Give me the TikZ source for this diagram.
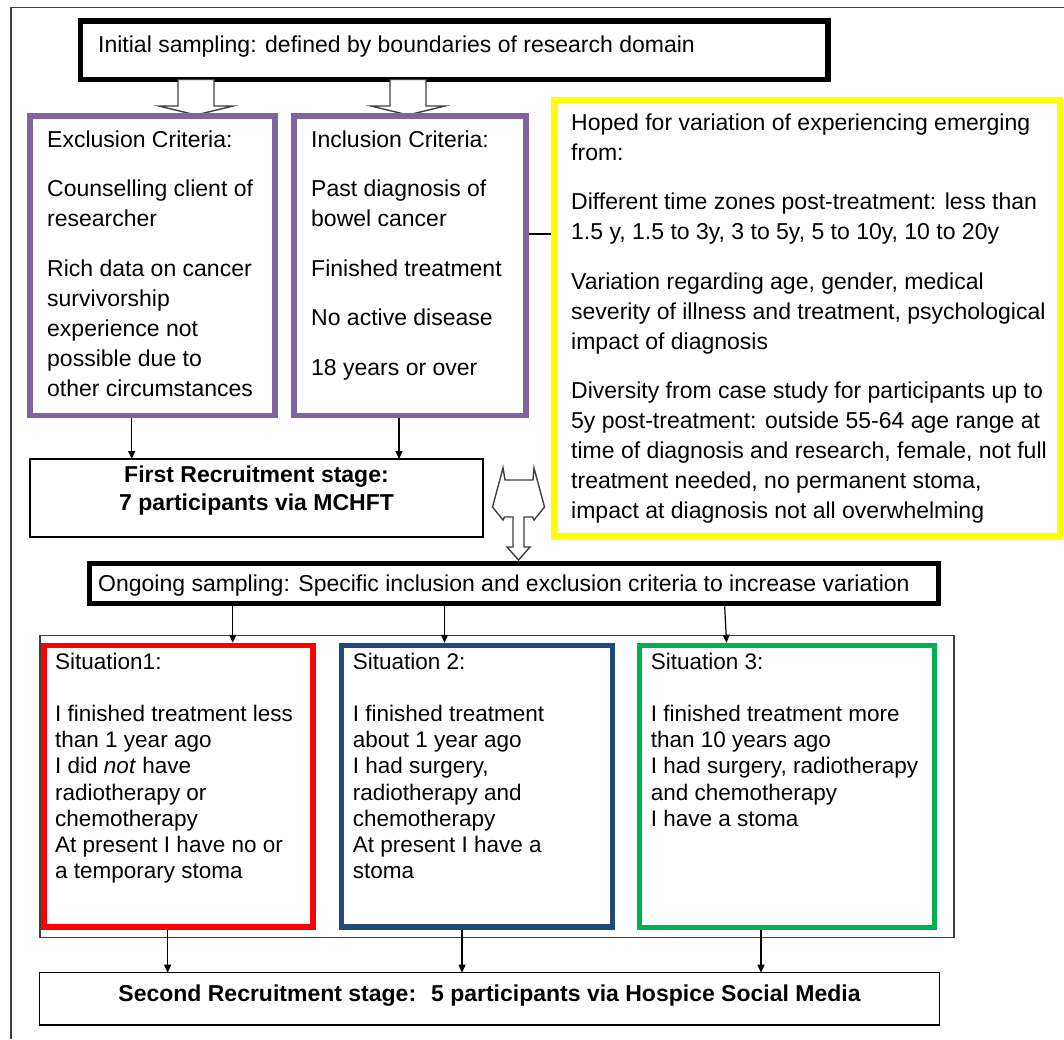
\documentclass[tikz,border=0pt]{standalone}
\usepackage{fontspec}
\setmainfont{Liberation Sans}
\usetikzlibrary{arrows.meta}
\definecolor{critpurple}{HTML}{8064A2}
\definecolor{hopeyellow}{HTML}{FFFF00}
\definecolor{sitred}{HTML}{FF0000}
\definecolor{sitblue}{HTML}{1F497D}
\definecolor{sitgreen}{HTML}{00B050}
\definecolor{edgegray}{HTML}{404040}
\newcommand{\boxtext}[2]{\parbox[t]{#1}{\raggedright #2}}
\newcommand{\centtext}[2]{\parbox[t]{#1}{\centering #2}}

\begin{document}
\begin{tikzpicture}[x=1pt,y=-1pt,
  frame/.style={rectangle, outer sep=0pt, inner sep=0pt, anchor=north west},
  blackframe/.style={frame, draw=black, line width=5.7pt},
  critframe/.style={frame, draw=critpurple, line width=5.5pt},
  hopeframe/.style={frame, draw=hopeyellow, line width=6.5pt},
  sitframe/.style={frame, line width=5.5pt},
  thinframe/.style={frame, draw=black, line width=1.3pt},
  holderframe/.style={frame, draw=edgegray, line width=1.8pt},
  conn/.style={draw=black, line width=1.2pt, -{Triangle[length=8pt,width=7pt]}},
  tie/.style={draw=black, line width=1.2pt},
  hollow/.style={draw=edgegray, line width=1.4pt, fill=white, line join=miter},
  bodytext/.style={inner sep=0pt, anchor=base west, font=\fontsize{23}{30.1}\selectfont},
  hopetext/.style={inner sep=0pt, anchor=base west, font=\fontsize{23}{29.8}\selectfont},
  sittext/.style={inner sep=0pt, anchor=base west, font=\fontsize{22.5}{26.2}\selectfont},
  stagetext/.style={inner sep=0pt, anchor=base, font=\fontsize{23}{28}\selectfont\bfseries},
  downblock/.pic={
    \path[hollow] (-18,0) -- (18,0) -- (18,26.5) -- (37,26.5) -- (0,35.5)
      -- (-37,26.5) -- (-18,26.5) -- cycle;
  },
  lrdblock/.pic={
    \path[hollow] (-26,-56.5) -- (-15.5,-95.5) -- (-13.5,-83.5) -- (14.5,-83.5)
      -- (15.5,-95.5) -- (26,-56.5) -- (15.5,-43.5) -- (14,-46.5) -- (5.5,-46.5)
      -- (5.5,-16.5) -- (11.5,-16.5) -- (0,-3.5) -- (-11.5,-16.5) -- (-5.5,-16.5)
      -- (-5.5,-46.5) -- (-14,-46.5) -- (-15.5,-43.5) -- cycle;
  }
]
\useasboundingbox (0,0) rectangle (1064,1039);

% page frame
\draw[edgegray, line width=1.3pt] (11,1039) -- (11,7.5) -- (1064,7.5);

% ---------- initial sampling ----------
\node[blackframe, minimum width=747.5, minimum height=58.5] (init) at (80.5,21) {};
\node[bodytext] (initT) at (98,52.7)
  {Initial sampling: defined by boundaries of research domain};

% block arrows into the criteria boxes
\pic at (init.south -| 196,0) {downblock};
\pic at (init.south -| 408,0) {downblock};

% ---------- criteria ----------
\node[critframe, minimum width=245, minimum height=299.5] (excl) at (30,116) {};
\node[bodytext] (exclT) at (47,147) {\boxtext{230pt}{Exclusion Criteria:\\[19.5pt]
  Counselling client of\\ researcher\\[19.5pt]
  Rich data on cancer\\ survivorship\\ experience not\\ possible due to\\ other circumstances}};

\node[critframe, minimum width=232, minimum height=299.5] (incl) at (294,116) {};
\node[bodytext] (inclT) at (311,147) {\boxtext{220pt}{Inclusion Criteria:\\[19.5pt]
  Past diagnosis of\\ bowel cancer\\[19.5pt]
  Finished treatment\\[19.5pt]
  No active disease\\[19.5pt]
  18 years or over}};

\node[hopeframe, minimum width=505.5, minimum height=436.5] (hope) at (554.5,100) {};
\node[hopetext] (hopeT) at (571,130.7) {\boxtext{485pt}{Hoped for variation of experiencing emerging\\ from:\\[19pt]
  Different time zones post-treatment: less than\\ 1.5 y, 1.5 to 3y, 3 to 5y, 5 to 10y, 10 to 20y\\[20.5pt]
  Variation regarding age, gender, medical\\ severity of illness and treatment, psychological\\ impact of diagnosis\\[20pt]
  Diversity from case study for participants up to\\ 5y post-treatment: outside 55-64 age range at\\ time of diagnosis and research, female, not full\\ treatment needed, no permanent stoma,\\ impact at diagnosis not all overwhelming}};

\draw[tie, shorten <=2.75pt, shorten >=3.25pt]
  ([yshift=31.75pt]incl.east) -- ([yshift=31.75pt]incl.east -| hope.west);

% ---------- first recruitment ----------
\node[thinframe, minimum width=453, minimum height=78] (first) at (30,459) {};
\node[stagetext] (firstT) at (256.5,482) {\centtext{440pt}{First Recruitment stage:\\ 7 participants via MCHFT}};

\draw[conn, shorten <=2.75pt] (excl.south -| 131.7,0) -- (first.north -| 131.7,0);
\draw[conn, shorten <=2.75pt] (incl.south -| 399,0) -- (first.north -| 399,0);

% ---------- ongoing sampling ----------
\node[blackframe, line width=5.5pt, minimum width=849, minimum height=40] (ong) at (89.5,563.5) {};
\node[bodytext] (ongT) at (98,591)
  {Ongoing sampling: Specific inclusion and exclusion criteria to increase variation};

\pic at (ong.north -| 518.5,0) {lrdblock};

% ---------- situations ----------
\node[holderframe, minimum width=914, minimum height=302] (holder) at (40,635.5) {};

\node[sitframe, draw=sitred, minimum width=269, minimum height=281.5] (sitA) at (44,645.5) {};
\node[sittext] (sitAT) at (55,669) {\boxtext{255pt}{Situation1:\\[26.2pt]
  I finished treatment less\\ than 1 year ago\\ I did \textit{not} have\\ radiotherapy or\\ chemotherapy\\ At present I have no or\\ a temporary stoma}};

\node[sitframe, draw=sitblue, minimum width=271.3, minimum height=281.5] (sitB) at (341.3,645.5) {};
\node[sittext] (sitBT) at (352.6,669) {\boxtext{255pt}{Situation 2:\\[26.2pt]
  I finished treatment\\ about 1 year ago\\ I had surgery,\\ radiotherapy and\\ chemotherapy\\ At present I have a\\ stoma}};

\node[sitframe, draw=sitgreen, minimum width=294.8, minimum height=282] (sitC) at (639.7,645.5) {};
\node[sittext] (sitCT) at (650.7,669) {\boxtext{280pt}{Situation 3:\\[26.2pt]
  I finished treatment more\\ than 10 years ago\\ I had surgery, radiotherapy\\ and chemotherapy\\ I have a stoma}};

\draw[conn, shorten <=2.85pt, shorten >=2.75pt] (ong.south -| 232.8,0) -- (sitA.north -| 232.8,0);
\draw[conn, shorten <=2.85pt, shorten >=2.75pt] (ong.south -| 444.5,0) -- (sitB.north -| 444.5,0);
\draw[conn, shorten <=2.85pt, shorten >=2.75pt] (ong.south -| 724.5,0) -- (sitC.north -| 726.7,0);

% ---------- second recruitment ----------
\node[thinframe, minimum width=900.3, minimum height=52.3] (second) at (39.3,972.7) {};
\node[stagetext] (secondT) at (489.5,1001.7)
  {Second Recruitment stage:~ 5 participants via Hospice Social Media};

\draw[conn, shorten <=2.75pt] (sitA.south -| 167.6,0) -- (second.north -| 167.6,0);
\draw[conn, shorten <=2.75pt] (sitB.south -| 462,0) -- (second.north -| 462,0);
\draw[conn, shorten <=2.75pt] (sitC.south -| 761,0) -- (second.north -| 761,0);

\end{tikzpicture}
\end{document}
